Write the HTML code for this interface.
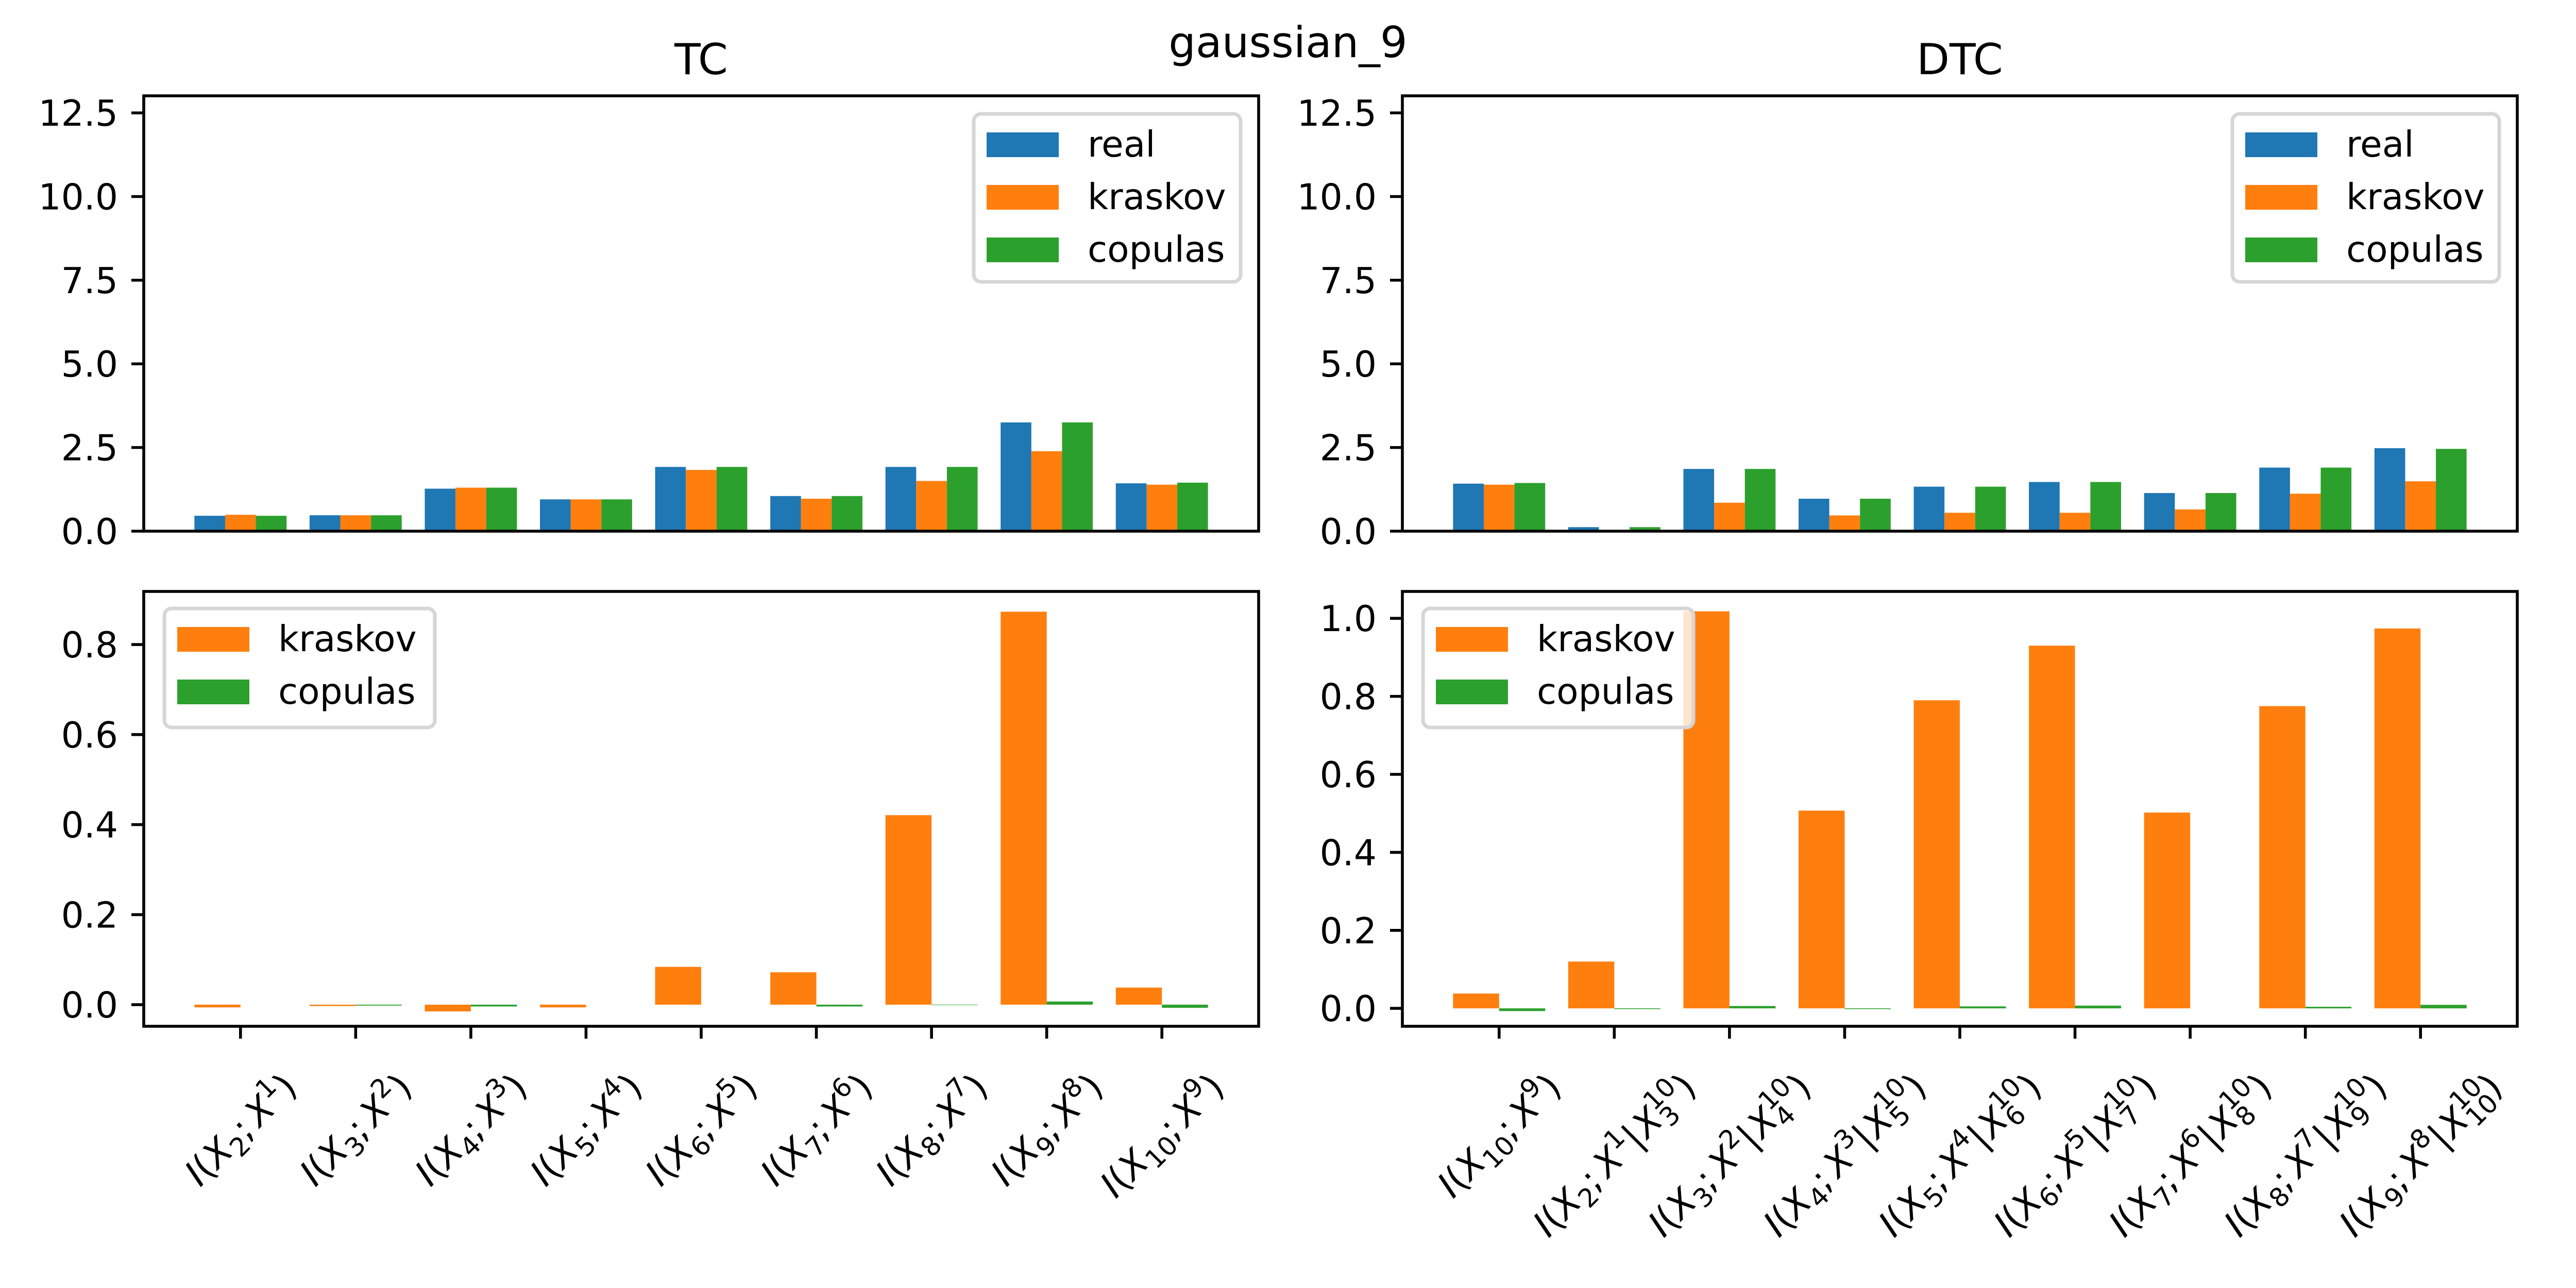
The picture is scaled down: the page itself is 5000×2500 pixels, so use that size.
<!DOCTYPE html>
<html><head><meta charset="utf-8">
<style>
html,body{margin:0;padding:0;background:#fff;}
svg{display:block;font-family:"DejaVu Sans","Liberation Sans",sans-serif;}
</style></head>
<body>
<svg id="fig" width="5000" height="2500" viewBox="0 0 5000 2500" xmlns="http://www.w3.org/2000/svg">
<rect x="0" y="0" width="5000" height="2500" fill="#fff"/>
<text x="2500" y="111" font-size="83" text-anchor="middle">gaussian_9</text>
</svg>
<script>
// ---------- data ----------
const tcLabels = ["I(X_{2};X^{1})","I(X_{3};X^{2})","I(X_{4};X^{3})","I(X_{5};X^{4})","I(X_{6};X^{5})","I(X_{7};X^{6})","I(X_{8};X^{7})","I(X_{9};X^{8})","I(X_{10};X^{9})"];
const dtcLabels = ["I(X_{10};X^{9})","I(X_{2};X^{1}|X^{10}_{3})","I(X_{3};X^{2}|X^{10}_{4})","I(X_{4};X^{3}|X^{10}_{5})","I(X_{5};X^{4}|X^{10}_{6})","I(X_{6};X^{5}|X^{10}_{7})","I(X_{7};X^{6}|X^{10}_{8})","I(X_{8};X^{7}|X^{10}_{9})","I(X_{9};X^{8}|X^{10}_{10})"];
const tcReal    = [0.46,0.475,1.27,0.95,1.92,1.05,1.92,3.25,1.43];
const tcKraskov = [0.49,0.475,1.30,0.95,1.83,0.97,1.50,2.39,1.39];
const tcCopulas = [0.46,0.475,1.30,0.95,1.92,1.05,1.92,3.25,1.45];
const dtcReal    = [1.42,0.12,1.86,0.97,1.33,1.47,1.14,1.90,2.48];
const dtcKraskov = [1.39,0.00,0.85,0.47,0.55,0.55,0.65,1.12,1.49];
const dtcCopulas = [1.44,0.12,1.86,0.97,1.33,1.47,1.14,1.90,2.46];
const tcDiffKraskov = [-0.006,-0.003,-0.015,-0.006,0.084,0.072,0.421,0.873,0.038];
const tcDiffCopulas = [0.000,-0.002,-0.004,0.000,0.000,-0.004,-0.001,0.007,-0.007];
const dtcDiffKraskov = [0.038,0.120,1.018,0.507,0.790,0.930,0.502,0.775,0.974];
const dtcDiffCopulas = [-0.007,-0.002,0.006,-0.002,0.005,0.007,0.000,0.004,0.009];
const topTicks = [0,2.5,5,7.5,10,12.5];
const topTickLabels = ["0.0","2.5","5.0","7.5","10.0","12.5"];
const blTicks = [0,0.2,0.4,0.6,0.8];
const blTickLabels = ["0.0","0.2","0.4","0.6","0.8"];
const brTicks = [0,0.2,0.4,0.6,0.8,1.0];
const brTickLabels = ["0.0","0.2","0.4","0.6","0.8","1.0"];

const C = {real:"#1f77b4", kraskov:"#ff7f0e", copulas:"#2ca02c"};
const NS="http://www.w3.org/2000/svg";
const svg=document.getElementById('fig');
function mk(tag,attrs,parent){const e=document.createElementNS(NS,tag);for(const k in attrs)e.setAttribute(k,attrs[k]);(parent||svg).appendChild(e);return e;}

function makeAxes(box, ylim, name){
  const xs=v=>box.x0+(v-(-0.84))/(8.84-(-0.84))*(box.x1-box.x0);
  const ys=v=>box.y1-(v-ylim[0])/(ylim[1]-ylim[0])*(box.y1-box.y0);
  const g=mk('g',{});
  
  
  return {xs,ys,g,box};
}
function drawBar(ax,x0,x1,v,color,name){
  const y0=ax.ys(0),y1=ax.ys(v);
  const r=mk('rect',{x:ax.xs(x0),y:Math.min(y0,y1),width:ax.xs(x1)-ax.xs(x0),height:Math.max(Math.abs(y1-y0),0.01),fill:color},ax.g);
  
  
}
function yTicks(ax,ticks,labels){
  ticks.forEach((t,i)=>{
    const y=ax.ys(t);
    const l=mk('line',{x1:ax.box.x0-24,x2:ax.box.x0,y1:y,y2:y,stroke:'#000','stroke-width':5.6},ax.g);
    
    
    const tx=mk('text',{x:ax.box.x0-50,y:y+25,'font-size':69.4,'text-anchor':'end'},ax.g);
    tx.textContent=labels[i];
    
    
  });
}
function frame(ax){
  const b=ax.box;
  const r=mk('rect',{x:b.x0,y:b.y0,width:b.x1-b.x0,height:b.y1-b.y0,fill:'none',stroke:'#000','stroke-width':5.6},ax.g);
  
  
}
function legend(ax,x,y,w,h,entries){
  const lg=mk('g',{},ax.g);
  
  
  mk('rect',{x:x,y:y,width:w,height:h,rx:14,fill:'#fff','fill-opacity':0.8,stroke:'#d6d6d6','stroke-width':7},lg);
  entries.forEach((e,i)=>{
    const eg=mk('g',{},lg);
    
    
    const hy=y+36+i*102;
    mk('rect',{x:x+25,y:hy,width:140,height:48,fill:e[1]},eg);
    const t=mk('text',{x:x+221,y:hy+47,'font-size':69.4},eg);
    t.textContent=e[0];
  });
}
function mathLabel(ax,str,xc,top){
  const fs=70, ss=0.72*fs;
  const g=mk('g',{},ax.g);
  
  
  const inner=mk('g',{},g);
  const t=mk('text',{x:0,y:0,'font-size':fs},inner);
  let cur=0,pendDx=0;
  function add(txt,italic,size,off){
    const s=mk('tspan',{},t);
    s.setAttribute('font-size',size);
    if(italic)s.setAttribute('font-style','italic');
    s.setAttribute('dy',off-cur);cur=off;
    if(pendDx){s.setAttribute('dx',pendDx);pendDx=0;}
    s.textContent=txt;return s;
  }
  function group(i){let j=str.indexOf('}',i);return [str.slice(i+2,j),j+1];}
  let i=0;
  while(i<str.length){
    const c=str[i];
    if(c==='^'||c==='_'){
      const [g1,n1]=group(i);
      const offSup=-0.42*fs, offSub=0.22*fs;
      if(str[n1]==='_'||str[n1]==='^'){
        const [g2,n2]=group(n1);
        const supT=c==='^'?g1:g2, subT=c==='^'?g2:g1;
        const a=add(supT,false,ss,offSup);
        const la=a.getComputedTextLength();
        const b=add(subT,false,ss,offSub);
        b.setAttribute('dx',-la);
        const lb=b.getComputedTextLength();
        if(la>lb)pendDx=la-lb;
        i=n2;
      } else {
        add(g1,false,ss,c==='^'?offSup:offSub);
        i=n1;
      }
    } else {
      add(c,/[A-Za-z]/.test(c),fs,0);
      if(c===';')pendDx=12;
      if(c==='|')pendDx=4;
      i++;
    }
  }
  const bb=t.getBBox();
  t.setAttribute('x',-bb.x-bb.width/2);
  t.setAttribute('y',-(bb.y+bb.height/2));
  inner.setAttribute('transform','rotate(-45)');
  const half=(bb.width+bb.height)/(2*Math.SQRT2);
  g.setAttribute('transform',`translate(${xc},${top+half})`);
}
function title(ax,txt){
  const t=mk('text',{x:(ax.box.x0+ax.box.x1)/2,y:144,'font-size':83,'text-anchor':'middle'},ax.g);
  t.textContent=txt;
  
  
}

const W3=0.8/3;
function topChart(box,real,kr,cop,name,ttl,legX){
  const ax=makeAxes(box,[0,13.01],name);
  for(let k=0;k<9;k++){
    drawBar(ax,k-0.4,k-0.4+W3,real[k],C.real,'bar-real-'+k);
    drawBar(ax,k-W3/2,k+W3/2,kr[k],C.kraskov,'bar-kraskov-'+k);
    drawBar(ax,k+0.4-W3,k+0.4,cop[k],C.copulas,'bar-copulas-'+k);
  }
  frame(ax);yTicks(ax,topTicks,topTickLabels);title(ax,ttl);
  legend(ax,legX,221,518,326,[['real',C.real],['kraskov',C.kraskov],['copulas',C.copulas]]);
}
function bottomChart(box,ylim,kr,cop,name,ticks,tl,labels){
  const ax=makeAxes(box,ylim,name);
  for(let k=0;k<9;k++){
    drawBar(ax,k-0.4,k,kr[k],C.kraskov,'bar-kraskov-'+k);
    drawBar(ax,k,k+0.4,cop[k],C.copulas,'bar-copulas-'+k);
  }
  frame(ax);yTicks(ax,ticks,tl);
  for(let k=0;k<9;k++){
    const x=ax.xs(k);
    const l=mk('line',{x1:x,x2:x,y1:box.y1,y2:box.y1+24,stroke:'#000','stroke-width':5.6},ax.g);
    
    
    mathLabel(ax,labels[k],x,2060);
  }
  legend(ax,box.x0+40,1181,525,231,[['kraskov',C.kraskov],['copulas',C.copulas]]);
}
topChart({x0:279,x1:2443,y0:186,y1:1031},tcReal,tcKraskov,tcCopulas,'tc-axes','TC',1890);
topChart({x0:2722,x1:4886,y0:186,y1:1031},dtcReal,dtcKraskov,dtcCopulas,'dtc-axes','DTC',4333);
bottomChart({x0:279,x1:2443,y0:1148,y1:1992},[-0.048,0.918],tcDiffKraskov,tcDiffCopulas,'tc-diff-axes',blTicks,blTickLabels,tcLabels);
bottomChart({x0:2722,x1:4886,y0:1148,y1:1992},[-0.046,1.069],dtcDiffKraskov,dtcDiffCopulas,'dtc-diff-axes',brTicks,brTickLabels,dtcLabels);
</script>
</body></html>
